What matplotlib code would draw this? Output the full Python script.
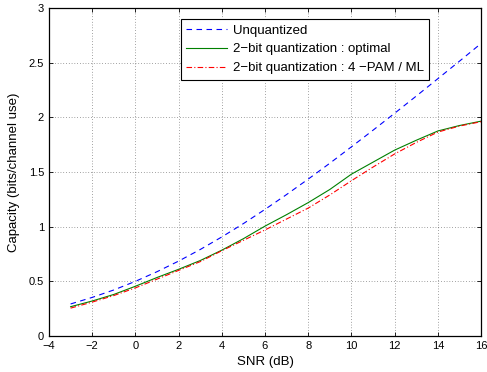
import matplotlib
matplotlib.use("Agg")
import matplotlib.pyplot as plt

plt.rcParams['font.family'] = ['Liberation Sans', 'DejaVu Sans']

snr_db = [-3, -2, -1, 0, 1, 2, 3, 4, 5, 6, 7, 8, 9, 10, 11, 12, 13, 14, 15, 16]
cap_unquantized = [0.293, 0.353, 0.421, 0.500, 0.588, 0.685, 0.791, 0.906, 1.028, 1.158,
                   1.294, 1.435, 1.580, 1.730, 1.882, 2.037, 2.194, 2.353, 2.513, 2.675]
cap_2bit_optimal = [0.268, 0.320, 0.380, 0.455, 0.535, 0.610, 0.690, 0.785, 0.890, 1.005,
                    1.110, 1.220, 1.340, 1.480, 1.590, 1.700, 1.790, 1.875, 1.925, 1.965]
cap_2bit_pam = [0.255, 0.310, 0.370, 0.440, 0.520, 0.600, 0.680, 0.780, 0.875, 0.970,
                1.070, 1.170, 1.290, 1.420, 1.545, 1.665, 1.770, 1.865, 1.920, 1.960]

fig = plt.figure(figsize=(4.87, 3.72), dpi=100)
ax = fig.add_axes([49 / 487, 1 - 336 / 372, 432 / 487, 328 / 372])

ax.plot(snr_db, cap_unquantized, color='blue', linestyle=(0, (5, 4)), linewidth=0.8,
        label='Unquantized')
ax.plot(snr_db, cap_2bit_optimal, color=(0, 0.5, 0), linestyle='-', linewidth=0.8,
        label='2\u2212bit quantization : optimal')
ax.plot(snr_db, cap_2bit_pam, color='red', linestyle=(0, (5, 2, 1, 2)), linewidth=0.8,
        label='2\u2212bit quantization : 4 \u2212PAM / ML')

ax.set_xlim(-4, 16)
ax.set_ylim(0, 3)
ax.set_xticks(range(-4, 17, 2))
ax.set_xticklabels([str(v).replace('-', '\u2212') for v in range(-4, 17, 2)])
ax.set_yticks([0, 0.5, 1, 1.5, 2, 2.5, 3])
ax.set_yticklabels(['0', '0.5', '1', '1.5', '2', '2.5', '3'])
ax.grid(True, linestyle=(0, (1, 3)), color='black', linewidth=0.5, alpha=0.7)
ax.tick_params(direction='in', top=True, right=True, labelsize=8, length=3, width=0.6)
for s in ax.spines.values():
    s.set_linewidth(0.9)

ax.set_xlabel('SNR (dB)', fontsize=9.5, labelpad=4)
ax.set_ylabel('Capacity (bits/channel use)', fontsize=9.5, labelpad=6)

leg = ax.legend(loc='upper left', bbox_to_anchor=(0.305, 0.966), fontsize=9.5,
                fancybox=False, framealpha=1, edgecolor='black', borderpad=0.4,
                handlelength=3.1, handletextpad=0.45, labelspacing=0.5,
                borderaxespad=0)
leg.get_frame().set_linewidth(0.8)

fig.savefig('out.png', dpi=100)
